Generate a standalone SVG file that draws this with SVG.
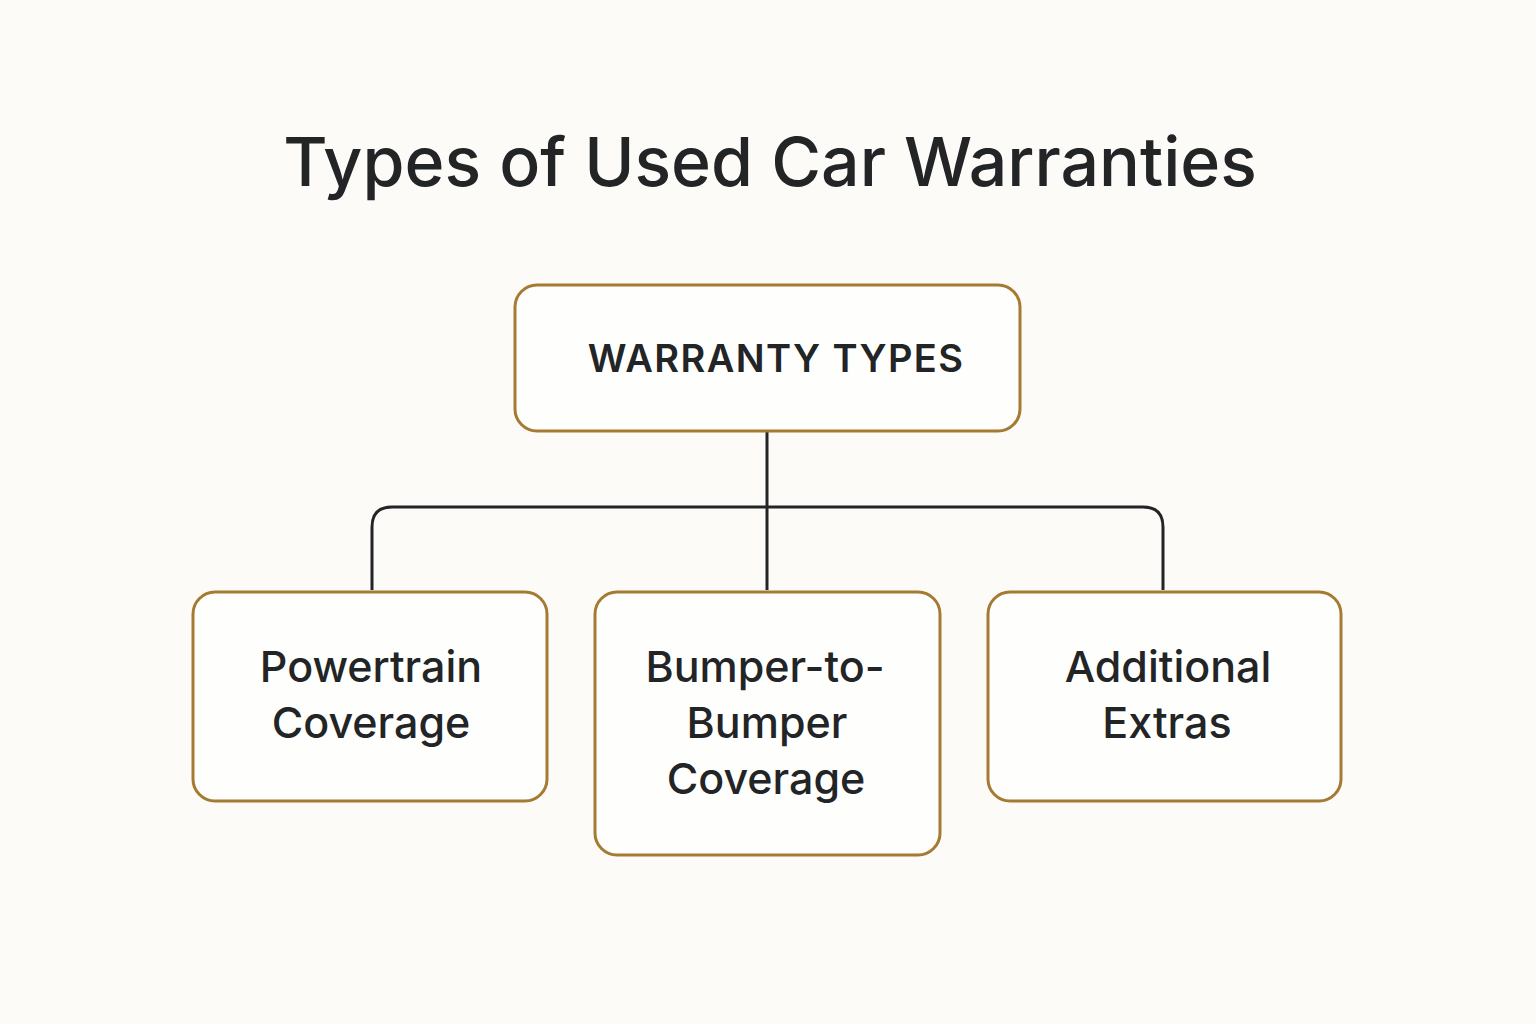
<svg xmlns="http://www.w3.org/2000/svg" width="1536" height="1024" viewBox="0 0 1536 1024">
<style>
.node rect{fill:#fefefd;stroke:#a57a33;stroke-width:3}
.lbl{font-family:Inter,"Liberation Sans",sans-serif;font-size:43px;font-weight:500;fill:#222426;text-anchor:middle}
.conn{fill:none;stroke:#222426;stroke-width:3}
</style>
<rect width="1536" height="1024" fill="#fcfbf8"/>
<text x="770" y="186" font-family="Inter,'Liberation Sans',sans-serif" font-size="68" font-weight="500" fill="#222426" text-anchor="middle">Types of Used Car Warranties</text>
<g id="connectors">
<path class="conn" d="M767 431 V590"/>
<path class="conn" d="M372 590 V527 Q372 507 392 507 H1143 Q1163 507 1163 527 V590"/>
</g>
<g id="warranty-types" class="node">
<rect x="515" y="285" width="505" height="146" rx="22"/>
<text class="lbl" x="776" y="372" style="font-weight:600;font-size:38px;letter-spacing:1.4px">WARRANTY TYPES</text>
</g>
<g id="powertrain" class="node">
<rect x="193" y="592" width="354" height="209" rx="22"/>
<text class="lbl" x="371" y="682">Powertrain</text>
<text class="lbl" x="371" y="738">Coverage</text>
</g>
<g id="bumper" class="node">
<rect x="595" y="592" width="345" height="263" rx="22"/>
<text class="lbl" x="765" y="682">Bumper-to-</text>
<text class="lbl" x="767" y="738">Bumper</text>
<text class="lbl" x="766" y="794">Coverage</text>
</g>
<g id="extras" class="node">
<rect x="988" y="592" width="353" height="209" rx="22"/>
<text class="lbl" x="1168" y="682">Additional</text>
<text class="lbl" x="1167" y="738">Extras</text>
</g>
</svg>
